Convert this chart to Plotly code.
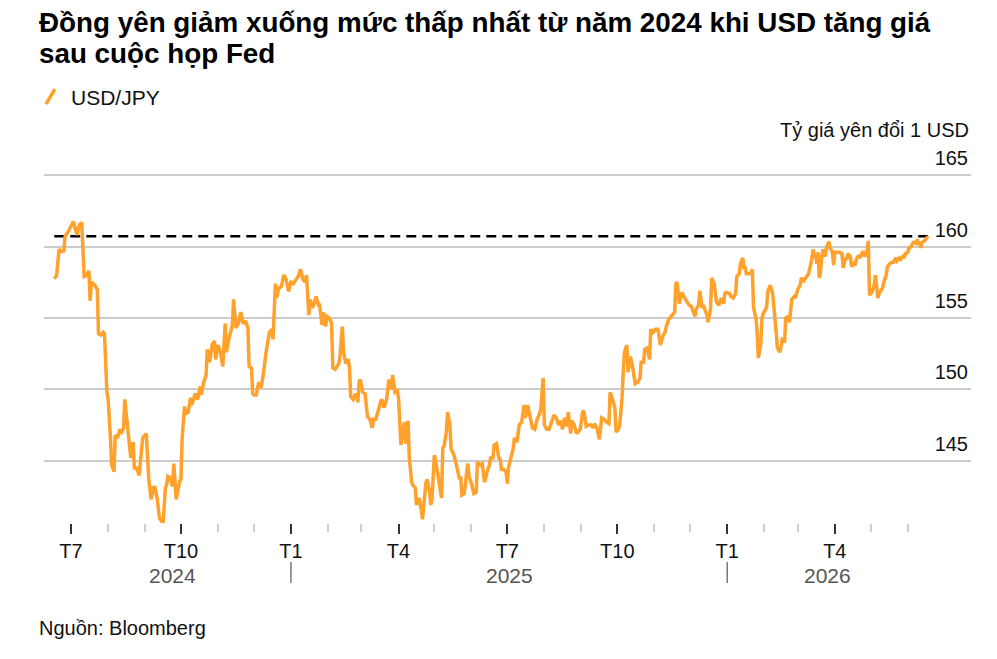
import plotly.graph_objects as go
import pandas as pd

# ---------------- data ----------------
dates_2024 = ["2024-06-17","2024-06-19","2024-06-21","2024-06-23","2024-06-25","2024-06-26","2024-06-29",
"2024-07-01","2024-07-03","2024-07-06","2024-07-08","2024-07-10","2024-07-11","2024-07-12","2024-07-14",
"2024-07-16","2024-07-17","2024-07-18","2024-07-21","2024-07-23","2024-07-24","2024-07-26","2024-07-28",
"2024-07-29","2024-07-31","2024-08-01","2024-08-03","2024-08-04","2024-08-06","2024-08-07","2024-08-09",
"2024-08-11","2024-08-12","2024-08-14","2024-08-15","2024-08-17","2024-08-18","2024-08-20","2024-08-22",
"2024-08-23","2024-08-25","2024-08-27","2024-08-28","2024-08-30","2024-09-02","2024-09-04","2024-09-06",
"2024-09-08","2024-09-09","2024-09-11","2024-09-13","2024-09-15","2024-09-16","2024-09-18","2024-09-19",
"2024-09-20","2024-09-22","2024-09-24","2024-09-25","2024-09-27","2024-09-30","2024-10-01","2024-10-02",
"2024-10-04","2024-10-05","2024-10-07","2024-10-09","2024-10-10","2024-10-12","2024-10-13","2024-10-15",
"2024-10-17","2024-10-18","2024-10-20","2024-10-22","2024-10-23","2024-10-25","2024-10-27","2024-10-29",
"2024-10-30","2024-11-01","2024-11-03","2024-11-05","2024-11-07","2024-11-08","2024-11-10","2024-11-13",
"2024-11-14","2024-11-16","2024-11-18","2024-11-20","2024-11-22","2024-11-24","2024-11-26","2024-11-27",
"2024-11-29","2024-11-30","2024-12-01","2024-12-03","2024-12-05","2024-12-07","2024-12-09","2024-12-11",
"2024-12-13","2024-12-14","2024-12-16","2024-12-17","2024-12-19","2024-12-20","2024-12-22","2024-12-24",
"2024-12-26","2024-12-28","2024-12-30"]
values_2024 = [157.74,158.0,159.8,159.65,159.7,160.7,161.1,
161.47,161.75,160.8,161.5,161.7,158.7,157.9,157.97,
158.3,156.2,157.5,157.3,156.97,153.9,153.8,154.0,
153.9,149.85,149.4,146.6,144.7,144.24,146.8,146.6,
147.2,146.9,147.3,149.3,147.5,146.8,145.2,146.3,
144.5,144.5,143.96,144.9,146.6,146.9,143.8,142.3,
143.1,143.2,142.4,141.0,140.7,140.6,143.1,143.3,
143.9,143.8,143.2,144.8,142.3,143.6,143.7,146.6,
148.8,148.3,148.4,149.4,148.9,149.5,149.7,149.3,
150.2,149.6,150.5,151.0,152.8,151.9,153.1,153.4,
152.1,153.1,152.6,151.6,154.6,152.6,153.5,154.5,
156.3,154.3,154.6,155.4,154.6,154.8,154.3,151.6,
151.5,149.7,149.6,149.6,150.5,150.1,151.1,152.5,
153.6,154.0,154.2,153.5,157.4,156.4,157.1,157.2,
158.0,157.7,156.85]

dates_2025 = ["2025-01-01","2025-01-03","2025-01-05","2025-01-07","2025-01-09","2025-01-11","2025-01-13",
"2025-01-14","2025-01-16","2025-01-17","2025-01-19","2025-01-20","2025-01-22","2025-01-24","2025-01-25",
"2025-01-27","2025-01-28","2025-01-30","2025-01-31","2025-02-02","2025-02-04","2025-02-05","2025-02-07",
"2025-02-10","2025-02-11","2025-02-13","2025-02-14","2025-02-16","2025-02-18","2025-02-19","2025-02-20",
"2025-02-22","2025-02-24","2025-02-26","2025-02-27","2025-02-28","2025-03-02","2025-03-04","2025-03-06",
"2025-03-08","2025-03-10","2025-03-11","2025-03-13","2025-03-15","2025-03-17","2025-03-18","2025-03-20",
"2025-03-22","2025-03-23","2025-03-24","2025-03-26","2025-03-27","2025-03-29","2025-03-31","2025-04-01",
"2025-04-03","2025-04-05","2025-04-06","2025-04-07","2025-04-09","2025-04-10","2025-04-12","2025-04-13",
"2025-04-15","2025-04-16","2025-04-18","2025-04-20","2025-04-21","2025-04-24","2025-04-25","2025-04-27",
"2025-04-28","2025-04-29","2025-05-01","2025-05-03","2025-05-05","2025-05-07","2025-05-08","2025-05-09",
"2025-05-11","2025-05-12","2025-05-14","2025-05-15","2025-05-17","2025-05-19","2025-05-20","2025-05-22",
"2025-05-23","2025-05-24","2025-05-26","2025-05-28","2025-05-29","2025-05-30","2025-06-01","2025-06-03",
"2025-06-05","2025-06-06","2025-06-08","2025-06-10","2025-06-12","2025-06-14","2025-06-16","2025-06-17",
"2025-06-19","2025-06-20","2025-06-22","2025-06-24","2025-06-25","2025-06-26","2025-06-28","2025-06-30",
"2025-07-01","2025-07-02","2025-07-04","2025-07-06","2025-07-07","2025-07-09","2025-07-11","2025-07-13",
"2025-07-15","2025-07-16","2025-07-18","2025-07-20","2025-07-22","2025-07-24","2025-07-26","2025-07-28",
"2025-07-29","2025-07-31","2025-08-01","2025-08-03","2025-08-05","2025-08-07","2025-08-09","2025-08-11",
"2025-08-13","2025-08-15","2025-08-16","2025-08-18","2025-08-20","2025-08-21","2025-08-23","2025-08-24",
"2025-08-26","2025-08-28","2025-08-29","2025-08-31","2025-09-02","2025-09-03","2025-09-05","2025-09-07",
"2025-09-09","2025-09-11","2025-09-12","2025-09-14","2025-09-16","2025-09-18","2025-09-20","2025-09-22",
"2025-09-24","2025-09-25","2025-09-27","2025-09-29","2025-09-30","2025-10-02","2025-10-03","2025-10-05",
"2025-10-06","2025-10-07","2025-10-09","2025-10-10","2025-10-12","2025-10-13","2025-10-14","2025-10-16",
"2025-10-18","2025-10-20","2025-10-21","2025-10-23","2025-10-24","2025-10-26","2025-10-28","2025-10-29",
"2025-10-31","2025-11-02","2025-11-04","2025-11-06","2025-11-08","2025-11-10","2025-11-11","2025-11-13",
"2025-11-14","2025-11-16","2025-11-18","2025-11-19","2025-11-20","2025-11-22","2025-11-24","2025-11-25",
"2025-11-27","2025-11-28","2025-11-30","2025-12-02","2025-12-04","2025-12-05","2025-12-06","2025-12-08",
"2025-12-09","2025-12-11","2025-12-12","2025-12-14","2025-12-15","2025-12-16","2025-12-18","2025-12-19",
"2025-12-21","2025-12-22","2025-12-23","2025-12-25","2025-12-27","2025-12-29","2025-12-30","2025-12-31"]
values_2025 = [157.5,157.4,157.7,157.9,158.4,157.7,157.5,
158.0,155.2,156.3,155.7,155.9,156.5,155.9,155.9,
154.5,155.4,154.4,155.1,155.0,154.6,151.5,151.4,
151.8,152.3,154.4,152.6,151.8,152.1,151.5,149.5,
149.3,149.7,149.1,150.5,150.7,149.8,149.7,148.1,
147.9,147.3,147.9,147.9,148.6,149.1,149.3,148.7,
149.3,150.1,150.7,150.0,151.0,149.8,149.9,149.4,
146.1,147.3,147.7,146.2,147.8,145.2,143.5,143.3,
143.1,141.9,142.4,141.6,140.9,143.5,143.7,142.8,
141.9,142.3,145.4,144.5,143.3,142.4,145.9,146.0,
147.0,148.4,147.5,145.8,145.5,144.9,144.5,143.7,
143.9,142.6,142.7,144.2,144.8,143.9,143.4,142.7,
142.8,144.9,144.7,144.8,143.5,144.2,144.7,145.2,
145.2,146.1,146.2,145.1,145.2,144.4,144.4,144.2,
143.4,144.5,145.1,145.9,146.6,146.3,147.5,147.7,
148.9,148.0,148.9,148.0,147.3,147.2,147.9,148.3,
148.6,150.8,147.5,147.2,147.2,147.7,148.2,148.0,
147.5,147.8,147.2,148.0,147.4,148.4,146.9,147.8,
147.5,146.9,147.0,147.2,148.4,148.5,147.4,147.5,
147.5,147.3,147.6,147.3,146.5,148.0,147.9,147.7,
147.6,149.8,149.3,148.7,147.0,147.2,147.5,149.4,
151.2,152.6,153.1,151.2,152.3,151.9,151.5,150.4,
150.5,150.8,151.9,151.9,152.8,152.9,152.1,154.2,
154.0,154.2,154.2,153.1,153.7,154.0,154.4,154.9,
155.0,155.2,155.4,157.4,157.5,156.0,156.8,156.6,
156.3,156.1,155.9,155.8,155.3,155.1,155.6,155.9,
156.9,155.7,155.9,155.4,155.2,154.7,155.6,157.8,
157.4,156.8,156.1,155.9,156.4,156.0,156.7,156.8]

dates_2026 = ["2026-01-03","2026-01-04","2026-01-06","2026-01-08","2026-01-09","2026-01-11","2026-01-12",
"2026-01-14","2026-01-15","2026-01-16","2026-01-17","2026-01-19","2026-01-21","2026-01-22","2026-01-23",
"2026-01-25","2026-01-26","2026-01-27","2026-01-29","2026-01-30","2026-01-31","2026-02-02","2026-02-03",
"2026-02-04","2026-02-06","2026-02-08","2026-02-09","2026-02-11","2026-02-12","2026-02-14","2026-02-15",
"2026-02-16","2026-02-18","2026-02-19","2026-02-21","2026-02-22","2026-02-24","2026-02-26","2026-02-27",
"2026-03-01","2026-03-03","2026-03-04","2026-03-06","2026-03-08","2026-03-10","2026-03-12","2026-03-14",
"2026-03-15","2026-03-16","2026-03-17","2026-03-18","2026-03-19","2026-03-20","2026-03-21","2026-03-22",
"2026-03-24","2026-03-25","2026-03-27","2026-03-28","2026-03-30","2026-03-31","2026-04-01","2026-04-03",
"2026-04-05","2026-04-07","2026-04-08","2026-04-10","2026-04-11","2026-04-12","2026-04-14","2026-04-15",
"2026-04-17","2026-04-18","2026-04-19","2026-04-21","2026-04-22","2026-04-24","2026-04-25","2026-04-26",
"2026-04-28","2026-04-29","2026-04-30","2026-05-02","2026-05-04","2026-05-05","2026-05-07","2026-05-08",
"2026-05-10","2026-05-11","2026-05-12","2026-05-14","2026-05-15","2026-05-17","2026-05-19","2026-05-20",
"2026-05-22","2026-05-23","2026-05-25","2026-05-26","2026-05-28","2026-05-29","2026-05-30","2026-06-01",
"2026-06-02","2026-06-04","2026-06-05","2026-06-06","2026-06-08","2026-06-09","2026-06-10","2026-06-11",
"2026-06-12","2026-06-13","2026-06-15","2026-06-16","2026-06-17","2026-06-18"]
values_2026 = [156.7,156.5,156.4,156.7,157.9,158.1,158.8,
159.2,158.4,158.6,158.1,158.1,158.2,158.4,155.7,
155.0,154.0,152.2,153.1,154.9,155.3,155.6,155.8,
156.9,157.3,156.7,155.9,153.9,152.9,152.6,153.0,
153.5,153.4,155.0,155.1,154.7,156.3,156.5,156.4,
157.0,157.3,157.8,157.6,157.9,158.1,158.8,159.8,
159.2,159.4,158.8,159.6,157.8,158.2,159.2,159.8,
159.3,159.9,160.35,159.9,159.6,158.7,159.6,159.6,
159.6,159.5,158.5,159.2,159.1,159.5,159.3,158.6,
158.8,158.7,159.1,159.4,159.2,159.6,159.6,159.3,
159.6,160.4,156.6,156.8,157.3,158.0,156.4,156.7,
157.0,157.1,157.5,158.0,158.6,158.8,158.9,158.9,
159.2,159.0,159.2,159.1,159.3,159.2,159.5,159.6,
159.9,160.0,160.2,160.3,160.2,160.5,160.2,160.3,
159.9,160.3,160.4,160.5,160.6,160.72]

ref_level = 160.72                      # dashed reference level
y_ticks = [145, 150, 155, 160, 165]
quarter_ticks = ["2024-07-01","2024-10-01","2025-01-01","2025-04-01",
                 "2025-07-01","2025-10-01","2026-01-01","2026-04-01"]
quarter_labels = ["T7","T10","T1","T4","T7","T10","T1","T4"]
years = ["2024", "2025", "2026"]

dates = dates_2024 + dates_2025 + dates_2026
values = values_2024 + values_2025 + values_2026

# ---------------- layout helpers ----------------
W, H = 997, 659
ML, MR, MT, MB = 44, 26, 140, 136
PW, PH = W - ML - MR, H - MT - MB
def px(x):   # pixel x -> paper
    return (x - ML) / PW
def py(y):   # pixel y -> paper
    return (H - MB - y) / PH

FONT = "Liberation Sans, Arial, Helvetica, sans-serif"
ORANGE = "#FFA12B"

fig = go.Figure()
fig.add_trace(go.Scatter(x=[dates[0], dates[-1]], y=[ref_level, ref_level], mode="lines",
                         line=dict(color="black", width=2.5, dash="10px,6px"),
                         showlegend=False, hoverinfo="skip"))
fig.add_trace(go.Scatter(x=dates, y=values, mode="lines", name="USD/JPY",
                         line=dict(color=ORANGE, width=3.5), showlegend=False))

minor_ticks = [d.strftime("%Y-%m-%d") for d in pd.date_range("2024-08-01", "2026-06-01", freq="MS")]

fig.update_xaxes(type="date", range=["2024-06-08 10:00", "2026-07-23 22:00"],
                 tickmode="array", tickvals=quarter_ticks, ticktext=quarter_labels,
                 ticks="outside", ticklen=10, tickwidth=2, tickcolor="#333333",
                 tickfont=dict(family=FONT, size=20, color="#111111"),
                 ticklabelstandoff=0,
                 showgrid=False, showline=False, zeroline=False,
                 minor=dict(tickmode="array", tickvals=minor_ticks, ticks="outside",
                            ticklen=8, tickwidth=1.5, tickcolor="#cfcfcf", showgrid=False))
fig.update_yaxes(range=[140.64, 140.64 + PH / 14.28], side="right", tickmode="array", tickvals=y_ticks,
                 ticklabelposition="inside top", ticks="", ticklabelshift=-3,
                 tickfont=dict(family=FONT, size=20, color="#111111"),
                 showgrid=True, gridcolor="#cccccc", gridwidth=1.5,
                 showline=False, zeroline=False)

ann = []
title1 = "Đồng yên giảm xuống mức thấp nhất từ năm 2024 khi USD tăng giá"
title2 = "sau cuộc họp Fed"
for txt, yy in [(title1, 22), (title2, 53)]:
    ann.append(dict(text="<b>%s</b>" % txt, x=px(37), y=py(yy), xref="paper", yref="paper",
                    xanchor="left", yanchor="middle", showarrow=False,
                    font=dict(family=FONT, size=27.8, color="#000000")))
ann.append(dict(text="USD/JPY", x=px(69), y=py(97), xref="paper", yref="paper",
                xanchor="left", yanchor="middle", showarrow=False,
                font=dict(family=FONT, size=21, color="#111111")))
ann.append(dict(text="Tỷ giá yên đổi 1 USD", x=px(971), y=py(130), xref="paper", yref="paper",
                xanchor="right", yanchor="middle", showarrow=False,
                font=dict(family=FONT, size=20, color="#111111")))
ann.append(dict(text="Nguồn: Bloomberg", x=px(37), y=py(628), xref="paper", yref="paper",
                xanchor="left", yanchor="middle", showarrow=False,
                font=dict(family=FONT, size=20, color="#111111")))

# year labels centred on the portion of data inside each year
ts = pd.to_datetime(dates)
for yr in years:
    lo = max(ts.min(), pd.Timestamp(f"{yr}-01-01"))
    hi = min(ts.max(), pd.Timestamp(f"{int(yr)+1}-01-01"))
    mid = lo + (hi - lo) / 2
    ann.append(dict(text=yr, x=mid, y=py(575), xref="x", yref="paper",
                    xanchor="center", yanchor="middle", showarrow=False,
                    font=dict(family=FONT, size=21, color="#555555")))

shapes = [dict(type="line", xref="paper", yref="paper", x0=px(46), y0=py(104), x1=px(55), y1=py(89),
               line=dict(color=ORANGE, width=3.5))]
for yr in years[1:]:
    shapes.append(dict(type="line", xref="x", yref="paper", x0=f"{yr}-01-01", x1=f"{yr}-01-01",
                       y0=py(562), y1=py(583), line=dict(color="#777777", width=1.5)))

fig.update_layout(width=W, height=H, margin=dict(l=ML, r=MR, t=MT, b=MB),
                  paper_bgcolor="white", plot_bgcolor="white",
                  annotations=ann, shapes=shapes, showlegend=False,
                  font=dict(family=FONT))

fig.write_html("out.html")
